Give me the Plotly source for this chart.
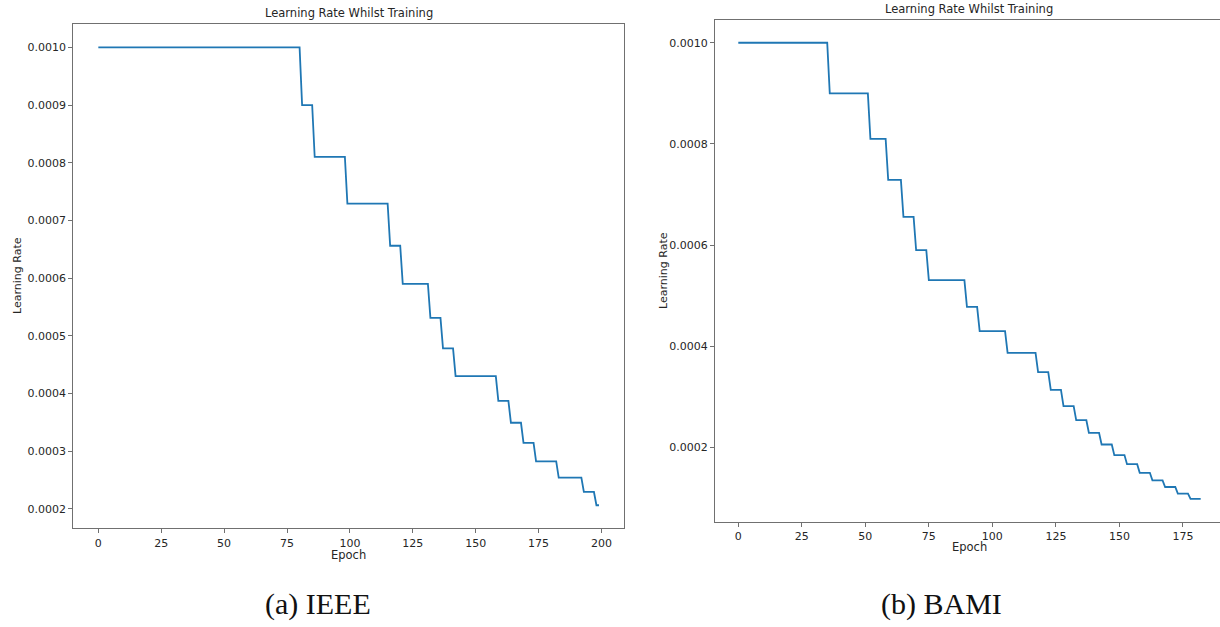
import numpy as np
import plotly.graph_objects as go

W, H = 1220, 627

# Learning-rate plateaus and how many epochs each one lasted
ieee_levels = [0.001, 0.0009, 0.00081, 0.000729, 0.000656, 0.00059, 0.000531,
               0.000478, 0.00043, 0.000387, 0.000349, 0.000314, 0.000282,
               0.000254, 0.000229, 0.000206]
ieee_runs = [81, 5, 13, 17, 5, 11, 5, 5, 17, 5, 5, 5, 9, 10, 5, 2]

bami_levels = [0.001, 0.0009, 0.00081, 0.000729, 0.000656, 0.00059, 0.000531,
               0.000478, 0.00043, 0.000387, 0.000349, 0.000314, 0.000282,
               0.000254, 0.000229, 0.000206, 0.000185, 0.000167, 0.00015,
               0.000135, 0.000122, 0.000109, 0.0000985]
bami_runs = [36, 16, 7, 6, 5, 5, 15, 5, 11, 12, 5, 5, 5, 5, 5, 5, 5, 5, 5, 5, 5, 5, 5]

ieee_xticks = [0, 25, 50, 75, 100, 125, 150, 175, 200]
ieee_yticks = [0.0002, 0.0003, 0.0004, 0.0005, 0.0006, 0.0007, 0.0008, 0.0009, 0.0010]
bami_xticks = [0, 25, 50, 75, 100, 125, 150, 175]
bami_yticks = [0.0002, 0.0004, 0.0006, 0.0008, 0.0010]

title_text = "Learning Rate Whilst Training"
captions = ["(a) IEEE", "(b) BAMI"]

ieee_lr = np.repeat(ieee_levels, ieee_runs)
bami_lr = np.repeat(bami_levels, bami_runs)
ieee_ep = np.arange(len(ieee_lr))
bami_ep = np.arange(len(bami_lr))


def px(x):
    return x / W


def py(y):
    return 1 - y / H


LINE = "#1f77b4"
SPINE = "#707070"
TXT = "#262626"
SANS = "DejaVu Sans, sans-serif"

fig = go.Figure()
fig.add_trace(go.Scatter(x=ieee_ep, y=ieee_lr, mode="lines",
                         line=dict(color=LINE, width=1.8), xaxis="x", yaxis="y",
                         showlegend=False))
fig.add_trace(go.Scatter(x=bami_ep, y=bami_lr, mode="lines",
                         line=dict(color=LINE, width=1.8), xaxis="x2", yaxis="y2",
                         showlegend=False))

axis_common = dict(showgrid=False, zeroline=False, showline=True, linecolor=SPINE,
                   linewidth=1.3, ticks="outside", ticklen=4, tickwidth=1,
                   tickcolor=SPINE, tickfont=dict(family=SANS, size=11, color=TXT))

fig.update_layout(
    width=W, height=H, margin=dict(l=0, r=0, t=0, b=0),
    paper_bgcolor="white", plot_bgcolor="white",
    xaxis=dict(axis_common, domain=[px(73.3), px(624)], range=[-9.95, 208.95],
               tickvals=ieee_xticks, mirror=True, anchor="y"),
    yaxis=dict(axis_common, domain=[py(528.3), py(24.3)], range=[0.000166, 0.00104],
               tickvals=ieee_yticks, tickformat=".4f", mirror=True, anchor="x"),
    xaxis2=dict(axis_common, domain=[px(715), 1.0], range=[-9.17, 189.6],
                tickvals=bami_xticks, mirror=True, anchor="y2"),
    yaxis2=dict(axis_common, domain=[py(521.7), py(20)], range=[0.0000534, 0.001045],
                tickvals=bami_yticks, tickformat=".4f", mirror=False, anchor="x2"),
)

ann = []
# titles
ann.append(dict(x=px(348.5), y=py(13), text=title_text))
ann.append(dict(x=px(969), y=py(9), text=title_text))
# x labels
ann.append(dict(x=px(348.5), y=py(555), text="Epoch"))
ann.append(dict(x=px(969), y=py(547), text="Epoch"))
for a in ann:
    a.update(xref="paper", yref="paper", showarrow=False,
             font=dict(family=SANS, size=11.5, color=TXT),
             xanchor="center", yanchor="middle")
# y labels
for xx, yy in [(17, 276), (663, 271)]:
    ann.append(dict(x=px(xx), y=py(yy), text="Learning Rate", textangle=-90,
                    xref="paper", yref="paper", showarrow=False,
                    font=dict(family=SANS, size=11, color=TXT),
                    xanchor="center", yanchor="middle"))
# sub-figure captions
for xx, txt in [(318, captions[0]), (942, captions[1])]:
    ann.append(dict(x=px(xx), y=py(604), text=txt, xref="paper", yref="paper",
                    showarrow=False, xanchor="center", yanchor="middle",
                    font=dict(family="Liberation Serif, DejaVu Serif, serif",
                              size=30, color="#111111")))
fig.update_layout(annotations=ann)

fig.write_html("out.html")
